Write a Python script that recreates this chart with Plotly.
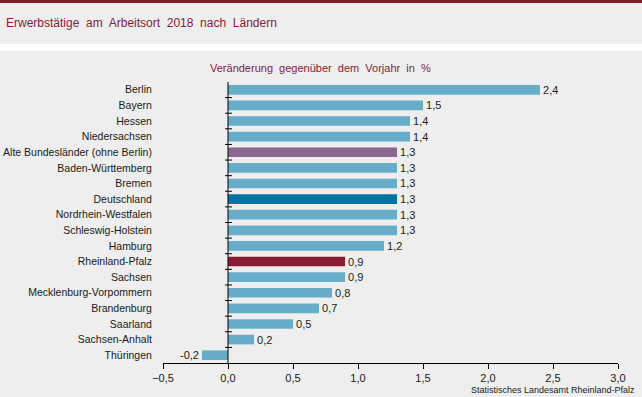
import plotly.graph_objects as go

categories = ["Berlin", "Bayern", "Hessen", "Niedersachsen", "Alte Bundesländer (ohne Berlin)",
              "Baden-Württemberg", "Bremen", "Deutschland", "Nordrhein-Westfalen",
              "Schleswig-Holstein", "Hamburg", "Rheinland-Pfalz", "Sachsen",
              "Mecklenburg-Vorpommern", "Brandenburg", "Saarland", "Sachsen-Anhalt", "Thüringen"]
values = [2.4, 1.5, 1.4, 1.4, 1.3, 1.3, 1.3, 1.3, 1.3, 1.3, 1.2, 0.9, 0.9, 0.8, 0.7, 0.5, 0.2, -0.2]
highlight = {"Alte Bundesländer (ohne Berlin)": "#8A6690",
             "Deutschland": "#0072A3",
             "Rheinland-Pfalz": "#871B33"}
base_color = "#67ADCA"
x_ticks = [-0.5, 0.0, 0.5, 1.0, 1.5, 2.0, 2.5, 3.0]

colors = [highlight.get(c, base_color) for c in categories]
labels = [f"{v:.1f}".replace(".", ",") for v in values]

font = "Liberation Sans, Arial, sans-serif"
bg = "#EDEEED"
W, H = 642, 397
L, R, T, B = 163, 24, 82, 34
plot_w = W - L - R
plot_h = H - T - B

def py(pix):  # pixel y from top -> paper y
    return (H - B - pix) / plot_h

def px(pix):
    return (pix - L) / plot_w

fig = go.Figure(go.Bar(
    x=values, y=categories, orientation="h",
    marker=dict(color=colors, line=dict(width=0)),
    text=labels, textposition="outside", cliponaxis=False, constraintext="none",
    textfont=dict(family=font, size=11, color="#1a1a1a"),
    width=0.62, hoverinfo="skip",
))

fig.update_layout(
    width=W, height=H,
    margin=dict(l=L, r=R, t=T, b=B, autoexpand=False),
    paper_bgcolor=bg, plot_bgcolor=bg,
    separators=",.",
    showlegend=False,
    font=dict(family=font, size=11, color="#1a1a1a"),
    xaxis=dict(range=[-0.5, 3.0], tickvals=x_ticks, tickformat=".1f",
               showgrid=False, zeroline=False, automargin=False,
               showline=True, linecolor="#000", linewidth=1,
               ticks="outside", ticklen=5, tickcolor="#000",
               tickfont=dict(size=11, color="#1a1a1a")),
    yaxis=dict(autorange="reversed", type="category", automargin=False,
               showgrid=False, zeroline=False, showline=False,
               ticks="outside", ticklen=8, tickcolor="rgba(0,0,0,0)",
               tickfont=dict(size=10.5, color="#1a1a1a")),
)

# zero axis vertical line + ticks across category boundaries
n = len(categories)
fig.add_shape(type="line", xref="x", yref="paper", x0=0, x1=0, y0=0, y1=1,
              line=dict(color="#000", width=1))
for i in range(n - 1):
    fig.add_shape(type="line", xref="paper", yref="y",
                  x0=px(228 - 3), x1=px(228 + 4), y0=i + 0.5, y1=i + 0.5,
                  line=dict(color="#000", width=1))

fig.add_shape(type="rect", xref="paper", yref="paper", x0=px(0), x1=px(W), y0=py(3), y1=py(-1),
              fillcolor="#861A2E", line=dict(width=0), layer="above")
fig.add_shape(type="rect", xref="paper", yref="paper", x0=px(0), x1=px(W), y0=py(51), y1=py(44),
              fillcolor="#FFFFFF", line=dict(width=0), layer="above")

fig.add_annotation(text="Erwerbstätige  am  Arbeitsort  2018  nach  Ländern",
                   xref="paper", yref="paper", x=px(4), y=py(23), xanchor="left", yanchor="middle",
                   showarrow=False, font=dict(family=font, size=12, color="#8B1A3A"))
fig.add_annotation(text="Veränderung  gegenüber  dem  Vorjahr  in  %",
                   xref="paper", yref="paper", x=px(320), y=py(68), xanchor="center", yanchor="middle",
                   showarrow=False, font=dict(family=font, size=11, color="#8B1A3A"))
fig.add_annotation(text="Statistisches Landesamt Rheinland-Pfalz",
                   xref="paper", yref="paper", x=px(637), y=py(390), xanchor="right", yanchor="middle",
                   showarrow=False, font=dict(family=font, size=9, color="#1a1a1a"))

fig.write_html("out.html",
               config={"displayModeBar": False, "staticPlot": True},
               post_script="document.documentElement.style.margin='0';"
                           "document.body.style.margin='0';document.body.style.padding='0';"
                           "document.documentElement.style.overflow='hidden';"
                           "document.body.style.overflow='hidden';"
                           "document.body.style.height='397px';"
                           "document.documentElement.style.height='397px';")
